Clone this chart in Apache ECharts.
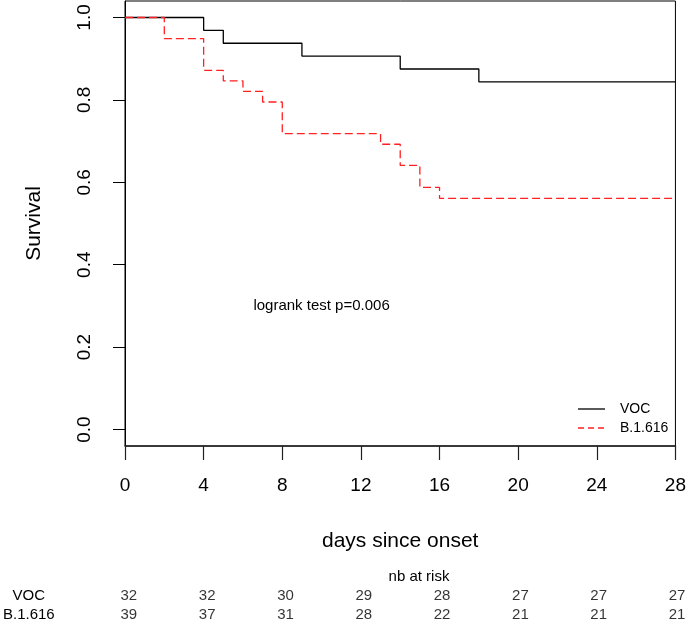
<!DOCTYPE html>
<html>
<head>
<meta charset="utf-8">
<script src="https://cdn.jsdelivr.net/npm/echarts@6/dist/echarts.min.js"></script>
<style>
html,body{margin:0;padding:0;background:#fff;}
#chart{width:689px;height:622px;}
</style>
</head>
<body>
<div id="chart"></div>
<script>
// Kaplan-Meier step data [day, survival]
var vocSurv = [[0,1],[4,0.96875],[5,0.9375],[9,0.90625],[14,0.875],[18,0.84375],[28,0.84375]];
var b1616Surv = [[0,1],[2,0.9487],[4,0.8718],[5,0.8462],[6,0.8205],[7,0.7949],[8,0.7179],[13,0.6923],[14,0.641],[15,0.5875],[16,0.561],[28,0.561]];
// number at risk
var riskDays = [0,4,8,12,16,20,24,28];
var vocRisk = [32,32,30,29,28,27,27,27];
var b1616Risk = [39,37,31,28,22,21,21,21];
var groups = ['VOC','B.1.616'];
var yTicks = [0,0.2,0.4,0.6,0.8,1.0];
var annotation = {x:10, y:0.3, text:'logrank test p=0.006'};

var FONT = 'Liberation Sans, Arial, sans-serif';
var RED = '#ff2020';
var chart = echarts.init(document.getElementById('chart'), null, {renderer:'canvas'});

var riskData = [];
riskDays.forEach(function(d,i){ riskData.push([d, groups[0], vocRisk[i]]); });
riskDays.forEach(function(d,i){ riskData.push([d, groups[1], b1616Risk[i]]); });

var option = {
  animation:false,
  backgroundColor:'#fff',
  textStyle:{fontFamily:FONT},
  grid:[
    {left:125, right:12, top:1, bottom:176, show:true, borderColor:'#000', borderWidth:1, backgroundColor:'transparent'},
    {left:125, right:12, top:596, height:19}
  ],
  xAxis:[
    {type:'value', gridIndex:0, min:0, max:28, interval:4,
     name:'days since onset', nameLocation:'middle', nameGap:95,
     nameTextStyle:{fontSize:21, color:'#000', fontFamily:FONT, verticalAlign:'middle'},
     axisLine:{show:true, onZero:false, lineStyle:{color:'#222', width:1.5}},
     axisTick:{show:true, inside:false, length:14, lineStyle:{color:'#222', width:1.2}},
     axisLabel:{fontSize:19, color:'#000', fontFamily:FONT, margin:40, verticalAlign:'middle'},
     splitLine:{show:false}},
    {type:'value', gridIndex:1, min:0, max:28, interval:4, show:false}
  ],
  yAxis:[
    {type:'value', gridIndex:0, min:-0.04, max:1.04,
     name:'Survival', nameLocation:'middle', nameGap:91, nameRotate:90,
     nameTextStyle:{fontSize:21, color:'#000', fontFamily:FONT, align:'center', verticalAlign:'middle'},
     axisLine:{show:true, onZero:false, lineStyle:{color:'#000', width:1}},
     axisTick:{show:true, inside:false, length:12, customValues:yTicks, lineStyle:{color:'#000', width:1}},
     axisLabel:{fontSize:19, color:'#000', fontFamily:FONT, rotate:90, margin:40, align:'center', verticalAlign:'middle',
       customValues:yTicks, formatter:function(v){return v.toFixed(1);}},
     splitLine:{show:false}},
    {type:'category', gridIndex:1, data:groups, inverse:true, boundaryGap:false,
     axisLine:{show:false}, axisTick:{show:false},
     axisLabel:{fontSize:15, color:'#000', fontFamily:FONT, align:'center', margin:100, interval:0}}
  ],
  series:[
    {name:'VOC', type:'line', xAxisIndex:0, yAxisIndex:0, step:'end', symbol:'none', data:vocSurv,
     lineStyle:{color:'#000', width:1.3, type:'solid'}, itemStyle:{color:'#000'}},
    {name:'B.1.616', type:'line', xAxisIndex:0, yAxisIndex:0, step:'end', symbol:'none', data:b1616Surv,
     lineStyle:{color:RED, width:1.3, type:[8,4]}, itemStyle:{color:RED}},
    {name:'risk', type:'scatter', xAxisIndex:1, yAxisIndex:1, data:riskData, symbolSize:2,
     itemStyle:{color:'transparent'}, silent:true,
     label:{show:true, position:'inside', fontSize:15, color:'#000', fontFamily:FONT,
       formatter:function(p){return String(p.value[2]);}}}
  ]
};
chart.setOption(option);

var pt = chart.convertToPixel({gridIndex:0}, [annotation.x, annotation.y]);
chart.setOption({
  graphic:[
    {type:'text', x:pt[0], y:pt[1], style:{text:annotation.text, fontSize:15, fontFamily:FONT, fill:'#000', align:'center', verticalAlign:'middle'}},
    {type:'text', x:419, y:577, style:{text:'nb at risk', fontSize:15, fontFamily:FONT, fill:'#000', align:'center', verticalAlign:'middle'}},
    // legend
    {type:'line', shape:{x1:578, y1:409, x2:605, y2:409}, style:{stroke:'#000', lineWidth:1.3}},
    {type:'line', shape:{x1:578, y1:428, x2:605, y2:428}, style:{stroke:RED, lineWidth:1.3, lineDash:[6,4]}},
    {type:'text', x:620, y:409, style:{text:groups[0], fontSize:14, fontFamily:FONT, fill:'#000', align:'left', verticalAlign:'middle'}},
    {type:'text', x:620, y:428, style:{text:groups[1], fontSize:14, fontFamily:FONT, fill:'#000', align:'left', verticalAlign:'middle'}}
  ]
});
</script>
</body>
</html>
